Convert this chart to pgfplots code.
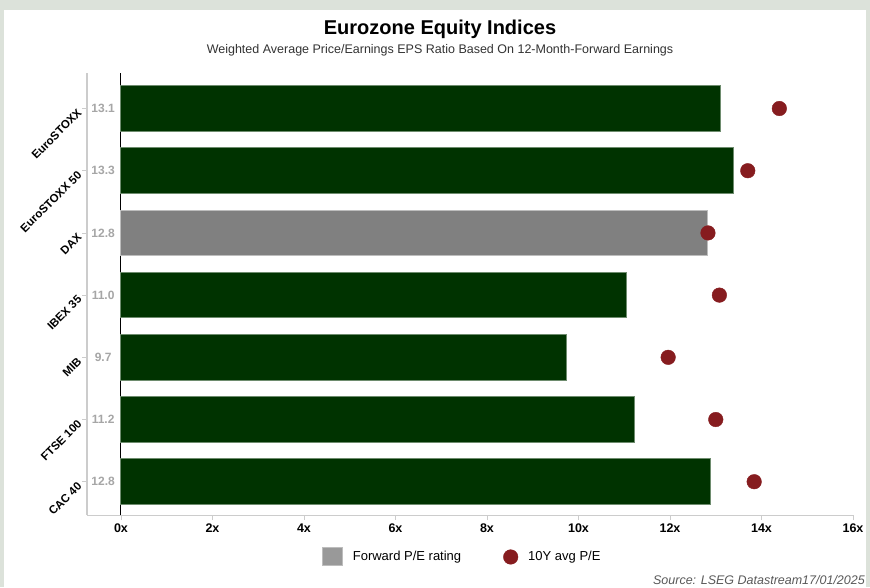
\documentclass[border=0pt]{standalone}
\usepackage{fontspec}
\setmainfont{Liberation Sans}
\usepackage{pgfplots}
\pgfplotsset{compat=1.18}
\definecolor{framegray}{HTML}{DCE2DA}
\definecolor{bargreen}{HTML}{003300}
\definecolor{barbord}{HTML}{6E8C6E}
\definecolor{daxgray}{HTML}{808080}
\definecolor{daxbord}{HTML}{BDBDBD}
\definecolor{dotred}{HTML}{861C1F}
\definecolor{axgray}{HTML}{CCCCCC}
\definecolor{valgray}{HTML}{A6A6A6}
\definecolor{srcgray}{HTML}{595959}
\begin{document}
\begin{tikzpicture}
\fill[framegray] (0pt,0pt) rectangle (870pt,587pt);
\fill[white] (4pt,0pt) rectangle (866pt,577pt);
\node[font=\fontsize{20}{23}\selectfont\bfseries] at (440pt,558pt) {Eurozone Equity Indices};
\node[font=\fontsize{12.5}{15}\selectfont, text=black!80] at (440pt,537pt) {Weighted Average Price/Earnings EPS Ratio Based On 12-Month-Forward Earnings};
\node[anchor=base east, font=\fontsize{12.5}{14}\selectfont\itshape, text=srcgray, inner sep=0pt] at (865pt,3pt) {Source: LSEG Datastream17/01/2025};
\begin{axis}[
  at={(87pt,72pt)}, anchor=south west,
  scale only axis, width=766pt, height=442pt,
  xmin=-0.743, xmax=16, ymin=-0.535, ymax=6.571,
  axis lines=left,
  axis line style={draw=axgray, line width=1pt, -},
  tick align=outside,
  major tick length=5pt,
  tick style={draw=axgray, line width=0.8pt},
  xtick={0,2,...,16},
  xticklabels={0x,2x,4x,6x,8x,10x,12x,14x,16x},
  xticklabel style={font=\fontsize{12.5}{14}\selectfont\bfseries, text=black},
  ytick={0,...,6},
  yticklabels={CAC 40, FTSE 100, MIB, IBEX 35, DAX, EuroSTOXX 50, EuroSTOXX},
  yticklabel style={rotate=45, anchor=east, font=\fontsize{11.5}{13}\selectfont\bfseries, text=black},
  extra x ticks={0},
  extra x tick labels={},
  extra x tick style={grid=major, major grid style={black, line width=1pt}, tick style={draw=none}},
  clip=false,
  legend style={at={(0.3024,-0.095)}, anchor=west, draw=none, fill=none,
    font=\fontsize{13}{15}\selectfont, legend columns=-1,
    /tikz/every odd column/.append style={column sep=8pt},
    /tikz/every even column/.append style={column sep=40pt}},
]
\addplot[xbar, bar width=45.5pt, bar shift=0pt, fill=daxgray, draw=daxbord, line width=1pt,
  legend image code/.code={\fill[fill=daxgray!80, draw=daxbord] (0pt,-9pt) rectangle (20pt,9pt);}]
  coordinates {(12.83,4)};
\addlegendentry{Forward P/E rating}
\addplot[xbar, bar width=45.5pt, bar shift=0pt, fill=bargreen, draw=barbord, line width=1pt, forget plot]
  coordinates {(12.88,0) (11.23,1) (9.73,2) (11.04,3) (13.38,5) (13.11,6)};
\addplot[only marks, mark=*, mark size=7.3pt, color=dotred,
  legend image code/.code={\fill[dotred] (0pt,0pt) circle (7.3pt);}]
  coordinates {(13.84,0) (13.0,1) (11.96,2) (13.08,3) (12.83,4) (13.7,5) (14.39,6)};
\addlegendentry{10Y avg P/E}
\addplot[only marks, mark=none, forget plot, nodes near coords, point meta=explicit symbolic,
  every node near coord/.style={anchor=center, font=\fontsize{12}{14}\selectfont\bfseries, text=valgray}]
  coordinates {(-0.39,0)[12.8] (-0.39,1)[11.2] (-0.39,2)[9.7] (-0.39,3)[11.0] (-0.39,4)[12.8] (-0.39,5)[13.3] (-0.39,6)[13.1]};
\end{axis}
\end{tikzpicture}
\end{document}
